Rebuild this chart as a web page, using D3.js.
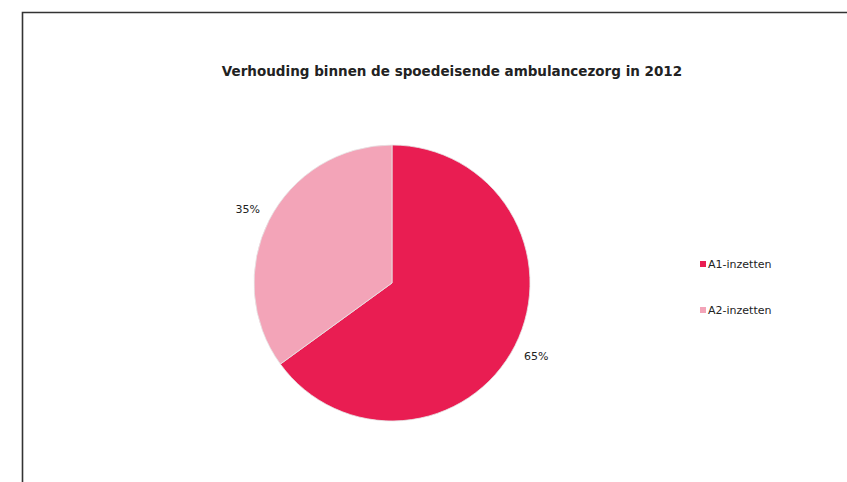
<!DOCTYPE html>
<html>
<head>
<meta charset="utf-8">
<script src="https://cdn.jsdelivr.net/npm/d3@7"></script>
<style>
  html, body { margin: 0; padding: 0; background: #fff; }
  svg { display: block; }
  text { font-family: "DejaVu Sans", Verdana, sans-serif; fill: #222; }
</style>
</head>
<body>
<svg id="chart" width="847" height="482"></svg>
<script>
// Share of urgent ambulance dispatches, 2012
const categories = ["A1-inzetten", "A2-inzetten"];
const shares = [65, 35];
const colors = ["#e91d52", "#f3a4b8"];
const title = "Verhouding binnen de spoedeisende ambulancezorg in 2012";

const svg = d3.select("#chart");

// chart area frame
svg.append("path")
  .attr("d", "M22.5,482 V12.5 H847")
  .attr("fill", "none")
  .attr("stroke", "#333")
  .attr("stroke-width", 1.6);

svg.append("text")
  .attr("x", 452)
  .attr("y", 76)
  .attr("text-anchor", "middle")
  .style("font-size", "13.5px")
  .style("font-weight", "bold")
  .text(title);

const cx = 392, cy = 283, r = 138;
const pie = d3.pie().sort(null).value(d => d)(shares);
const arc = d3.arc().innerRadius(0).outerRadius(r);

const g = svg.append("g").attr("transform", `translate(${cx},${cy})`);
g.selectAll("path")
  .data(pie)
  .join("path")
  .attr("d", arc)
  .attr("fill", (d, i) => colors[i])
  .attr("stroke", "#e6e6e6")
  .attr("stroke-width", 0.8);

// percentage labels outside the slices
const labelArc = d3.arc().innerRadius(r + 24).outerRadius(r + 24);
g.selectAll("text.pct")
  .data(pie)
  .join("text")
  .attr("class", "pct")
  .attr("transform", d => {
    const [x, y] = labelArc.centroid(d);
    return `translate(${x},${y})`;
  })
  .attr("text-anchor", "middle")
  .attr("dy", "0.35em")
  .style("font-size", "11px")
  .text(d => d.data + "%");

// legend
const legend = svg.append("g").attr("transform", "translate(700,264)");
const item = legend.selectAll("g")
  .data(categories)
  .join("g")
  .attr("transform", (d, i) => `translate(0,${i * 46})`);
item.append("rect")
  .attr("x", 0).attr("y", -3)
  .attr("width", 6).attr("height", 6)
  .attr("fill", (d, i) => colors[i]);
item.append("text")
  .attr("x", 8)
  .attr("dy", "0.35em")
  .style("font-size", "11px")
  .text(d => d);
</script>
</body>
</html>
